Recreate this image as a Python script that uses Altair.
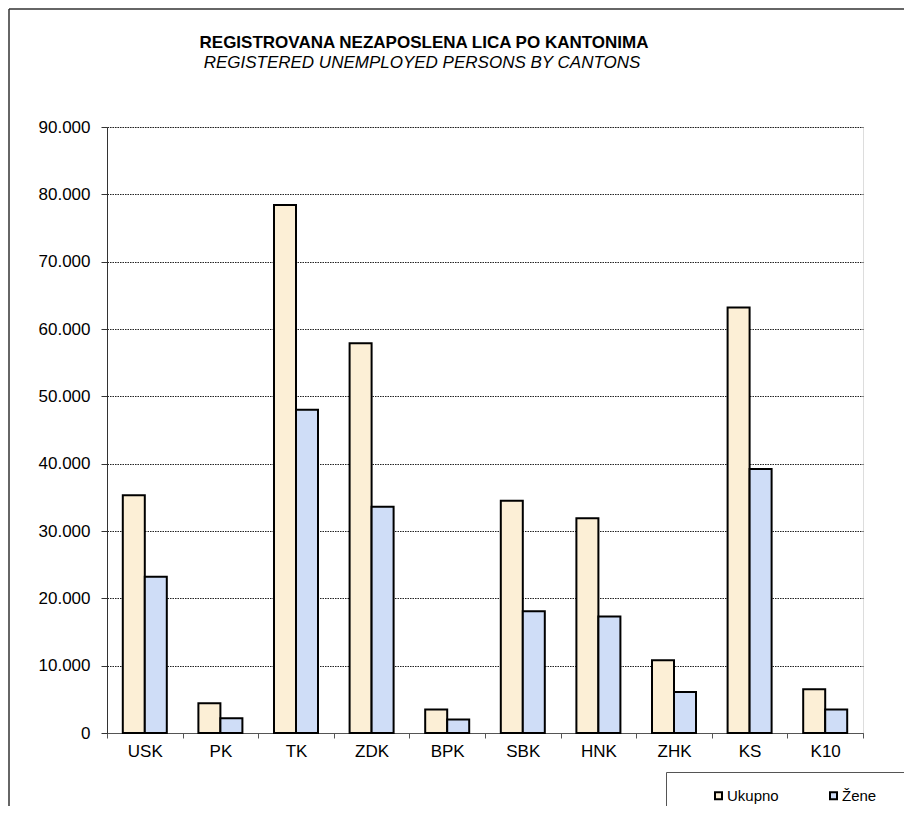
import altair as alt
import pandas as pd

cantons = ["USK", "PK", "TK", "ZDK", "BPK", "SBK", "HNK", "ZHK", "KS", "K10"]
ukupno = [35300, 4400, 78400, 57900, 3500, 34500, 31900, 10800, 63200, 6500]
zene = [23200, 2200, 48000, 33600, 2000, 18100, 17300, 6100, 39200, 3500]
series = ["Ukupno", "Žene"]
colors = ["#FCEFD6", "#CFDDF7"]
y_ticks = [0, 10000, 20000, 30000, 40000, 50000, 60000, 70000, 80000, 90000]
title_text = "REGISTROVANA NEZAPOSLENA LICA PO KANTONIMA"
subtitle_text = "REGISTERED UNEMPLOYED PERSONS BY CANTONS"

rows = []
for c, u, z in zip(cantons, ukupno, zene):
    rows.append({"Kanton": c, "Serija": series[0], "Vrijednost": u})
    rows.append({"Kanton": c, "Serija": series[1], "Vrijednost": z})
df = pd.DataFrame(rows)

FONT = "Liberation Sans"

bars = alt.Chart(df).mark_bar(stroke="black", strokeWidth=2).encode(
    x=alt.X("Kanton:N", sort=cantons, title=None,
            scale=alt.Scale(paddingInner=0, paddingOuter=0),
            axis=alt.Axis(labelAngle=0, tickBand="extent", domainColor="#555555",
                          tickColor="#555555", tickSize=5, labelPadding=5,
                          labelFontSize=17, labelFont=FONT, labelColor="black",
                          grid=False)),
    xOffset=alt.XOffset("Serija:N", sort=series,
                        scale=alt.Scale(paddingInner=0, paddingOuter=0.718)),
    y=alt.Y("Vrijednost:Q", title=None,
            scale=alt.Scale(domain=[0, 90000], nice=False),
            axis=alt.Axis(values=y_ticks, tickSize=6, labelPadding=11,
                          labelFontSize=17, labelFont=FONT, labelColor="black",
                          labelExpr="replace(format(datum.value, ','), ',', '.')",
                          domainColor="#333333", tickColor="#333333",
                          grid=True, gridColor="#222222", gridDash=[1.5, 1],
                          gridWidth=1)),
    color=alt.Color("Serija:N", sort=series,
                    scale=alt.Scale(domain=series, range=colors),
                    legend=alt.Legend(title=None, orient="none", direction="horizontal",
                                      legendX=604, legendY=661,
                                      symbolType="square", symbolSize=49,
                                      symbolStrokeColor="black", symbolStrokeWidth=2,
                                      labelFontSize=15, labelFont=FONT, labelColor="black",
                                      labelOffset=1, columnPadding=47, padding=0)),
)

one = alt.Data(values=[{"a": 1}])

title_mark = alt.Chart(alt.Data(values=[{"t": title_text}])).mark_text(
    font=FONT, fontSize=17, fontWeight="bold", color="black",
    align="center", baseline="alphabetic").encode(
    x=alt.value(317), y=alt.value(-79), text="t:N")
subtitle_mark = alt.Chart(alt.Data(values=[{"t": subtitle_text}])).mark_text(
    font=FONT, fontSize=17, fontStyle="italic", color="black",
    align="center", baseline="alphabetic").encode(
    x=alt.value(315), y=alt.value(-59), text="t:N")

frame_left = alt.Chart(one).mark_rule(color="#333333", strokeWidth=1.5).encode(
    x=alt.value(-98), y=alt.value(-118), y2=alt.value(690))
frame_top = alt.Chart(one).mark_rule(color="#333333", strokeWidth=1.5).encode(
    x=alt.value(-98), x2=alt.value(820), y=alt.value(-118))
leg_top = alt.Chart(one).mark_rule(color="#555555", strokeWidth=1).encode(
    x=alt.value(559.5), x2=alt.value(820), y=alt.value(645.5))
leg_left = alt.Chart(one).mark_rule(color="#555555", strokeWidth=1).encode(
    x=alt.value(559.5), y=alt.value(645.5), y2=alt.value(690))

chart = alt.layer(bars, title_mark, subtitle_mark, frame_left, frame_top,
                  leg_top, leg_left).properties(
    width=756, height=606,
    autosize=alt.AutoSizeParams(type="none"),
    padding={"left": 99, "top": 119, "right": 41, "bottom": 73},
).configure_view(stroke="#999999", strokeWidth=2).configure(background="white")

chart.save("out.html", embed_options={"renderer": "svg", "actions": False})
